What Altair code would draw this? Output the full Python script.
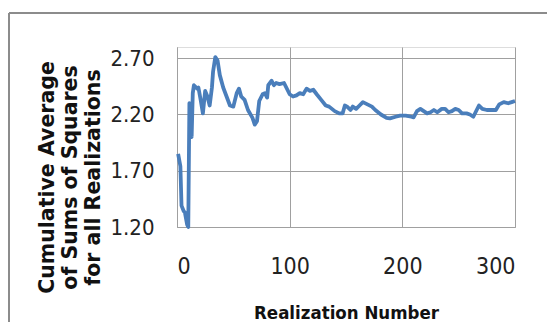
import altair as alt
import pandas as pd

# Realization number and cumulative average
realization = [1, 3, 4, 6, 7, 9, 10, 11, 13, 14, 15, 18, 19, 21, 23, 25, 27, 29, 31, 32,
               34, 36, 38, 41, 44, 47, 50, 53, 55, 57, 60, 63, 67, 69, 71, 73, 76, 78, 80, 81,
               84, 86, 88, 91, 95, 97, 100, 103, 106, 109, 112, 115, 118, 121, 124, 128, 132, 135, 140, 144,
               147, 149, 151, 154, 156, 159, 162, 165, 169, 173, 176, 181, 186, 189, 194, 198, 203, 208, 210, 213,
               216, 219, 222, 225, 228, 231, 235, 238, 241, 244, 247, 250, 253, 257, 260, 263, 265, 268, 271, 275,
               279, 283, 286, 290, 294, 297, 300]
cum_avg = [1.85, 1.74, 1.39, 1.34, 1.33, 1.22, 1.20, 2.30, 2.00, 2.39, 2.46, 2.43, 2.44, 2.33, 2.21, 2.41, 2.36, 2.28, 2.44, 2.58,
           2.71, 2.68, 2.55, 2.44, 2.36, 2.28, 2.27, 2.39, 2.43, 2.36, 2.33, 2.24, 2.17, 2.11, 2.14, 2.32, 2.38, 2.39, 2.35, 2.46,
           2.50, 2.46, 2.48, 2.47, 2.48, 2.44, 2.38, 2.36, 2.37, 2.39, 2.38, 2.43, 2.41, 2.42, 2.38, 2.33, 2.28, 2.27, 2.23, 2.21,
           2.21, 2.28, 2.27, 2.24, 2.27, 2.25, 2.28, 2.31, 2.29, 2.27, 2.24, 2.20, 2.17, 2.165, 2.18, 2.19, 2.19, 2.18, 2.175, 2.23,
           2.25, 2.23, 2.21, 2.22, 2.24, 2.22, 2.25, 2.25, 2.22, 2.23, 2.25, 2.24, 2.21, 2.21, 2.20, 2.18, 2.22, 2.28, 2.25, 2.24,
           2.24, 2.24, 2.29, 2.31, 2.30, 2.31, 2.32]

x_ticks = [0, 100, 200, 300]
y_ticks = [1.2, 1.7, 2.2, 2.7]

df = pd.DataFrame({"n": realization, "v": cum_avg})

GRID = "#a0a0a0"
NARROW = "Liberation Sans Narrow, Arial Narrow, DejaVu Sans Condensed, sans-serif"

line = alt.Chart(df).mark_line(color="#4a7ebb", strokeWidth=3.8, strokeJoin="round").encode(
    x=alt.X("n:Q", scale=alt.Scale(domain=[0, 300], nice=False),
            axis=alt.Axis(values=x_ticks, grid=True, gridColor=GRID, gridWidth=1,
                          domainColor=GRID, domainWidth=1, ticks=False,
                          labelFont=NARROW, labelFontSize=23, labelColor="#222",
                          labelPadding=28,
                          title="Realization Number", titleFont=NARROW, titleFontSize=18.5,
                          titleFontWeight="bold", titleColor="#111",
                          titleY=85, titleBaseline="middle")),
    y=alt.Y("v:Q", scale=alt.Scale(domain=[1.2, 2.8], nice=False, zero=False),
            axis=alt.Axis(values=y_ticks, format=".2f", grid=True, gridColor=GRID, gridWidth=1,
                          domainColor=GRID, domainWidth=1, ticks=False,
                          labelFont=NARROW, labelFontSize=22, labelColor="#222",
                          labelPadding=23,
                          title=["Cumulative  Average", "of Sums of Squares", "for all Realizations"],
                          titleFont="DejaVu Sans", titleFontSize=20.5, titleFontWeight="bold",
                          titleColor="#111", titleLineHeight=23,
                          titleAngle=270, titleBaseline="top", titleAlign="center",
                          titleX=-140, titleY=130)),
)

frame_data = alt.Data(values=[{}])
frame_left = alt.Chart(frame_data).mark_rule(color="#8c8c8c", strokeWidth=2).encode(
    x=alt.value(-168), y=alt.value(-34), y2=alt.value(320)
)
frame_top = alt.Chart(frame_data).mark_rule(color="#8c8c8c", strokeWidth=2).encode(
    x=alt.value(-168), x2=alt.value(400), y=alt.value(-34)
)

chart = alt.layer(frame_left, frame_top, line).properties(
    width=338, height=180,
    autosize=alt.AutoSizeParams(type="none"),
    padding={"left": 169, "top": 39, "right": 32, "bottom": 95},
).configure_view(stroke=None).configure(background="white")

chart.save("out.html", embed_options={"renderer": "svg", "actions": False})
